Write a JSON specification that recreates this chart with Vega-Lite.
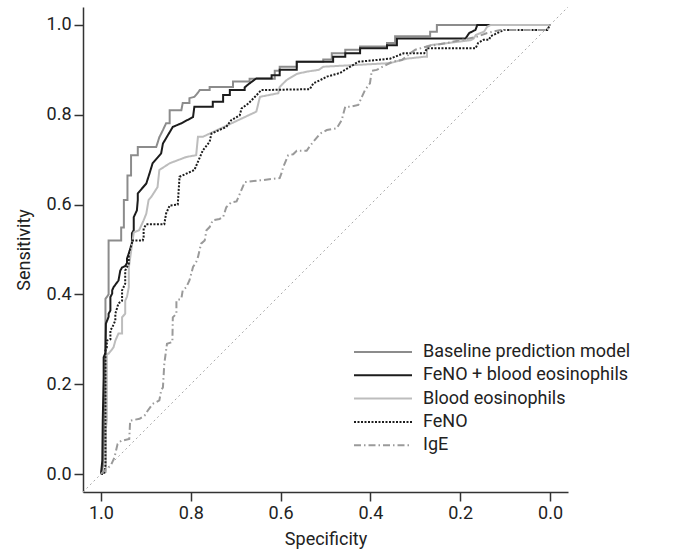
{
  "$schema": "https://vega.github.io/schema/vega-lite/v6.json",
  "autosize": "none",
  "width": 485,
  "height": 485,
  "padding": {"left": 83, "top": 7, "right": 115, "bottom": 63},
  "background": "white",
  "config": {
    "view": {"stroke": null},
    "font": "Roboto",
    "axis": {
      "grid": false,
      "labelFont": "Roboto",
      "titleFont": "Roboto",
      "labelFontSize": 18,
      "titleFontSize": 18,
      "titleFontWeight": "normal",
      "labelColor": "#222",
      "titleColor": "#222",
      "domainColor": "#333",
      "tickColor": "#333",
      "domainWidth": 1.5,
      "tickWidth": 1.5,
      "tickSize": 9
    },
    "legend": {
      "orient": "none",
      "legendX": 270,
      "legendY": 334,
      "padding": 0,
      "labelFont": "Roboto",
      "labelFontSize": 18,
      "labelColor": "#222",
      "labelOffset": 10,
      "symbolSize": 3364,
      "symbolType": "stroke",
      "clipHeight": 22,
      "rowPadding": 1.3,
      "labelLimit": 400
    }
  },
  "layer": [
    {
      "data": {"values": [{"spec": 1.04, "sens": -0.04}, {"spec": -0.04, "sens": 1.04}]},
      "mark": {"type": "line", "color": "#aaaaaa", "strokeWidth": 1, "strokeDash": [2, 3], "clip": true},
      "encoding": {
        "x": {"field": "spec", "type": "quantitative"},
        "y": {"field": "sens", "type": "quantitative"}
      }
    },
    {
      "data": {"values": [
        {"model": "Baseline prediction model", "spec": 1.0, "sens": 0.0},
        {"model": "Baseline prediction model", "spec": 0.995, "sens": 0.02},
        {"model": "Baseline prediction model", "spec": 0.993, "sens": 0.10},
        {"model": "Baseline prediction model", "spec": 0.990, "sens": 0.21},
        {"model": "Baseline prediction model", "spec": 0.990, "sens": 0.39},
        {"model": "Baseline prediction model", "spec": 0.983, "sens": 0.40},
        {"model": "Baseline prediction model", "spec": 0.983, "sens": 0.52},
        {"model": "Baseline prediction model", "spec": 0.955, "sens": 0.52},
        {"model": "Baseline prediction model", "spec": 0.955, "sens": 0.549},
        {"model": "Baseline prediction model", "spec": 0.949, "sens": 0.549},
        {"model": "Baseline prediction model", "spec": 0.949, "sens": 0.610},
        {"model": "Baseline prediction model", "spec": 0.941, "sens": 0.610},
        {"model": "Baseline prediction model", "spec": 0.941, "sens": 0.665},
        {"model": "Baseline prediction model", "spec": 0.933, "sens": 0.665},
        {"model": "Baseline prediction model", "spec": 0.933, "sens": 0.710},
        {"model": "Baseline prediction model", "spec": 0.918, "sens": 0.710},
        {"model": "Baseline prediction model", "spec": 0.918, "sens": 0.728},
        {"model": "Baseline prediction model", "spec": 0.877, "sens": 0.728},
        {"model": "Baseline prediction model", "spec": 0.870, "sens": 0.750},
        {"model": "Baseline prediction model", "spec": 0.862, "sens": 0.766},
        {"model": "Baseline prediction model", "spec": 0.855, "sens": 0.781},
        {"model": "Baseline prediction model", "spec": 0.847, "sens": 0.781},
        {"model": "Baseline prediction model", "spec": 0.847, "sens": 0.810},
        {"model": "Baseline prediction model", "spec": 0.821, "sens": 0.810},
        {"model": "Baseline prediction model", "spec": 0.818, "sens": 0.826},
        {"model": "Baseline prediction model", "spec": 0.803, "sens": 0.826},
        {"model": "Baseline prediction model", "spec": 0.803, "sens": 0.837},
        {"model": "Baseline prediction model", "spec": 0.792, "sens": 0.840},
        {"model": "Baseline prediction model", "spec": 0.785, "sens": 0.848},
        {"model": "Baseline prediction model", "spec": 0.780, "sens": 0.855},
        {"model": "Baseline prediction model", "spec": 0.758, "sens": 0.855},
        {"model": "Baseline prediction model", "spec": 0.758, "sens": 0.862},
        {"model": "Baseline prediction model", "spec": 0.706, "sens": 0.862},
        {"model": "Baseline prediction model", "spec": 0.706, "sens": 0.874},
        {"model": "Baseline prediction model", "spec": 0.669, "sens": 0.874},
        {"model": "Baseline prediction model", "spec": 0.669, "sens": 0.880},
        {"model": "Baseline prediction model", "spec": 0.613, "sens": 0.880},
        {"model": "Baseline prediction model", "spec": 0.613, "sens": 0.898},
        {"model": "Baseline prediction model", "spec": 0.602, "sens": 0.898},
        {"model": "Baseline prediction model", "spec": 0.602, "sens": 0.907},
        {"model": "Baseline prediction model", "spec": 0.564, "sens": 0.907},
        {"model": "Baseline prediction model", "spec": 0.564, "sens": 0.918},
        {"model": "Baseline prediction model", "spec": 0.505, "sens": 0.918},
        {"model": "Baseline prediction model", "spec": 0.505, "sens": 0.923},
        {"model": "Baseline prediction model", "spec": 0.486, "sens": 0.923},
        {"model": "Baseline prediction model", "spec": 0.486, "sens": 0.937},
        {"model": "Baseline prediction model", "spec": 0.456, "sens": 0.937},
        {"model": "Baseline prediction model", "spec": 0.456, "sens": 0.945},
        {"model": "Baseline prediction model", "spec": 0.423, "sens": 0.945},
        {"model": "Baseline prediction model", "spec": 0.423, "sens": 0.952},
        {"model": "Baseline prediction model", "spec": 0.363, "sens": 0.952},
        {"model": "Baseline prediction model", "spec": 0.363, "sens": 0.960},
        {"model": "Baseline prediction model", "spec": 0.345, "sens": 0.960},
        {"model": "Baseline prediction model", "spec": 0.345, "sens": 0.975},
        {"model": "Baseline prediction model", "spec": 0.267, "sens": 0.975},
        {"model": "Baseline prediction model", "spec": 0.267, "sens": 0.985},
        {"model": "Baseline prediction model", "spec": 0.252, "sens": 0.985},
        {"model": "Baseline prediction model", "spec": 0.252, "sens": 1.0},
        {"model": "Baseline prediction model", "spec": 0.0, "sens": 1.0},

        {"model": "FeNO + blood eosinophils", "spec": 1.0, "sens": 0.0},
        {"model": "FeNO + blood eosinophils", "spec": 0.997, "sens": 0.03},
        {"model": "FeNO + blood eosinophils", "spec": 0.996, "sens": 0.12},
        {"model": "FeNO + blood eosinophils", "spec": 0.994, "sens": 0.215},
        {"model": "FeNO + blood eosinophils", "spec": 0.994, "sens": 0.26},
        {"model": "FeNO + blood eosinophils", "spec": 0.990, "sens": 0.27},
        {"model": "FeNO + blood eosinophils", "spec": 0.989, "sens": 0.335},
        {"model": "FeNO + blood eosinophils", "spec": 0.983, "sens": 0.35},
        {"model": "FeNO + blood eosinophils", "spec": 0.983, "sens": 0.357},
        {"model": "FeNO + blood eosinophils", "spec": 0.979, "sens": 0.364},
        {"model": "FeNO + blood eosinophils", "spec": 0.979, "sens": 0.394},
        {"model": "FeNO + blood eosinophils", "spec": 0.975, "sens": 0.402},
        {"model": "FeNO + blood eosinophils", "spec": 0.975, "sens": 0.409},
        {"model": "FeNO + blood eosinophils", "spec": 0.972, "sens": 0.416},
        {"model": "FeNO + blood eosinophils", "spec": 0.961, "sens": 0.431},
        {"model": "FeNO + blood eosinophils", "spec": 0.957, "sens": 0.453},
        {"model": "FeNO + blood eosinophils", "spec": 0.953, "sens": 0.46},
        {"model": "FeNO + blood eosinophils", "spec": 0.946, "sens": 0.463},
        {"model": "FeNO + blood eosinophils", "spec": 0.942, "sens": 0.47},
        {"model": "FeNO + blood eosinophils", "spec": 0.942, "sens": 0.48},
        {"model": "FeNO + blood eosinophils", "spec": 0.938, "sens": 0.491},
        {"model": "FeNO + blood eosinophils", "spec": 0.931, "sens": 0.514},
        {"model": "FeNO + blood eosinophils", "spec": 0.931, "sens": 0.536},
        {"model": "FeNO + blood eosinophils", "spec": 0.927, "sens": 0.543},
        {"model": "FeNO + blood eosinophils", "spec": 0.927, "sens": 0.572},
        {"model": "FeNO + blood eosinophils", "spec": 0.920, "sens": 0.587},
        {"model": "FeNO + blood eosinophils", "spec": 0.918, "sens": 0.61},
        {"model": "FeNO + blood eosinophils", "spec": 0.918, "sens": 0.625},
        {"model": "FeNO + blood eosinophils", "spec": 0.899, "sens": 0.647},
        {"model": "FeNO + blood eosinophils", "spec": 0.892, "sens": 0.669},
        {"model": "FeNO + blood eosinophils", "spec": 0.885, "sens": 0.692},
        {"model": "FeNO + blood eosinophils", "spec": 0.866, "sens": 0.714},
        {"model": "FeNO + blood eosinophils", "spec": 0.862, "sens": 0.736},
        {"model": "FeNO + blood eosinophils", "spec": 0.840, "sens": 0.773},
        {"model": "FeNO + blood eosinophils", "spec": 0.821, "sens": 0.781},
        {"model": "FeNO + blood eosinophils", "spec": 0.795, "sens": 0.795},
        {"model": "FeNO + blood eosinophils", "spec": 0.792, "sens": 0.818},
        {"model": "FeNO + blood eosinophils", "spec": 0.751, "sens": 0.818},
        {"model": "FeNO + blood eosinophils", "spec": 0.751, "sens": 0.829},
        {"model": "FeNO + blood eosinophils", "spec": 0.728, "sens": 0.829},
        {"model": "FeNO + blood eosinophils", "spec": 0.728, "sens": 0.844},
        {"model": "FeNO + blood eosinophils", "spec": 0.713, "sens": 0.844},
        {"model": "FeNO + blood eosinophils", "spec": 0.713, "sens": 0.855},
        {"model": "FeNO + blood eosinophils", "spec": 0.680, "sens": 0.855},
        {"model": "FeNO + blood eosinophils", "spec": 0.680, "sens": 0.861},
        {"model": "FeNO + blood eosinophils", "spec": 0.669, "sens": 0.870},
        {"model": "FeNO + blood eosinophils", "spec": 0.654, "sens": 0.881},
        {"model": "FeNO + blood eosinophils", "spec": 0.620, "sens": 0.881},
        {"model": "FeNO + blood eosinophils", "spec": 0.620, "sens": 0.888},
        {"model": "FeNO + blood eosinophils", "spec": 0.602, "sens": 0.888},
        {"model": "FeNO + blood eosinophils", "spec": 0.602, "sens": 0.900},
        {"model": "FeNO + blood eosinophils", "spec": 0.564, "sens": 0.900},
        {"model": "FeNO + blood eosinophils", "spec": 0.564, "sens": 0.918},
        {"model": "FeNO + blood eosinophils", "spec": 0.483, "sens": 0.918},
        {"model": "FeNO + blood eosinophils", "spec": 0.483, "sens": 0.929},
        {"model": "FeNO + blood eosinophils", "spec": 0.456, "sens": 0.929},
        {"model": "FeNO + blood eosinophils", "spec": 0.456, "sens": 0.937},
        {"model": "FeNO + blood eosinophils", "spec": 0.423, "sens": 0.937},
        {"model": "FeNO + blood eosinophils", "spec": 0.423, "sens": 0.948},
        {"model": "FeNO + blood eosinophils", "spec": 0.363, "sens": 0.948},
        {"model": "FeNO + blood eosinophils", "spec": 0.363, "sens": 0.955},
        {"model": "FeNO + blood eosinophils", "spec": 0.341, "sens": 0.955},
        {"model": "FeNO + blood eosinophils", "spec": 0.341, "sens": 0.970},
        {"model": "FeNO + blood eosinophils", "spec": 0.188, "sens": 0.970},
        {"model": "FeNO + blood eosinophils", "spec": 0.180, "sens": 0.982},
        {"model": "FeNO + blood eosinophils", "spec": 0.166, "sens": 0.989},
        {"model": "FeNO + blood eosinophils", "spec": 0.162, "sens": 1.0},
        {"model": "FeNO + blood eosinophils", "spec": 0.0, "sens": 1.0},

        {"model": "Blood eosinophils", "spec": 1.0, "sens": 0.0},
        {"model": "Blood eosinophils", "spec": 0.989, "sens": 0.005},
        {"model": "Blood eosinophils", "spec": 0.989, "sens": 0.10},
        {"model": "Blood eosinophils", "spec": 0.987, "sens": 0.12},
        {"model": "Blood eosinophils", "spec": 0.987, "sens": 0.268},
        {"model": "Blood eosinophils", "spec": 0.983, "sens": 0.268},
        {"model": "Blood eosinophils", "spec": 0.972, "sens": 0.282},
        {"model": "Blood eosinophils", "spec": 0.968, "sens": 0.297},
        {"model": "Blood eosinophils", "spec": 0.961, "sens": 0.313},
        {"model": "Blood eosinophils", "spec": 0.953, "sens": 0.313},
        {"model": "Blood eosinophils", "spec": 0.953, "sens": 0.349},
        {"model": "Blood eosinophils", "spec": 0.946, "sens": 0.357},
        {"model": "Blood eosinophils", "spec": 0.946, "sens": 0.386},
        {"model": "Blood eosinophils", "spec": 0.942, "sens": 0.395},
        {"model": "Blood eosinophils", "spec": 0.938, "sens": 0.416},
        {"model": "Blood eosinophils", "spec": 0.938, "sens": 0.46},
        {"model": "Blood eosinophils", "spec": 0.927, "sens": 0.538},
        {"model": "Blood eosinophils", "spec": 0.915, "sens": 0.543},
        {"model": "Blood eosinophils", "spec": 0.905, "sens": 0.565},
        {"model": "Blood eosinophils", "spec": 0.899, "sens": 0.58},
        {"model": "Blood eosinophils", "spec": 0.894, "sens": 0.61},
        {"model": "Blood eosinophils", "spec": 0.888, "sens": 0.617},
        {"model": "Blood eosinophils", "spec": 0.874, "sens": 0.639},
        {"model": "Blood eosinophils", "spec": 0.870, "sens": 0.677},
        {"model": "Blood eosinophils", "spec": 0.847, "sens": 0.692},
        {"model": "Blood eosinophils", "spec": 0.810, "sens": 0.706},
        {"model": "Blood eosinophils", "spec": 0.788, "sens": 0.710},
        {"model": "Blood eosinophils", "spec": 0.784, "sens": 0.751},
        {"model": "Blood eosinophils", "spec": 0.773, "sens": 0.751},
        {"model": "Blood eosinophils", "spec": 0.654, "sens": 0.807},
        {"model": "Blood eosinophils", "spec": 0.646, "sens": 0.840},
        {"model": "Blood eosinophils", "spec": 0.605, "sens": 0.848},
        {"model": "Blood eosinophils", "spec": 0.602, "sens": 0.862},
        {"model": "Blood eosinophils", "spec": 0.587, "sens": 0.877},
        {"model": "Blood eosinophils", "spec": 0.564, "sens": 0.891},
        {"model": "Blood eosinophils", "spec": 0.542, "sens": 0.896},
        {"model": "Blood eosinophils", "spec": 0.515, "sens": 0.900},
        {"model": "Blood eosinophils", "spec": 0.505, "sens": 0.907},
        {"model": "Blood eosinophils", "spec": 0.356, "sens": 0.915},
        {"model": "Blood eosinophils", "spec": 0.319, "sens": 0.925},
        {"model": "Blood eosinophils", "spec": 0.282, "sens": 0.929},
        {"model": "Blood eosinophils", "spec": 0.274, "sens": 0.929},
        {"model": "Blood eosinophils", "spec": 0.274, "sens": 0.952},
        {"model": "Blood eosinophils", "spec": 0.267, "sens": 0.955},
        {"model": "Blood eosinophils", "spec": 0.177, "sens": 0.966},
        {"model": "Blood eosinophils", "spec": 0.170, "sens": 0.970},
        {"model": "Blood eosinophils", "spec": 0.165, "sens": 0.978},
        {"model": "Blood eosinophils", "spec": 0.147, "sens": 0.985},
        {"model": "Blood eosinophils", "spec": 0.140, "sens": 0.996},
        {"model": "Blood eosinophils", "spec": 0.132, "sens": 1.0},
        {"model": "Blood eosinophils", "spec": 0.0, "sens": 1.0},

        {"model": "FeNO", "spec": 1.0, "sens": 0.0},
        {"model": "FeNO", "spec": 0.993, "sens": 0.0},
        {"model": "FeNO", "spec": 0.990, "sens": 0.02},
        {"model": "FeNO", "spec": 0.990, "sens": 0.275},
        {"model": "FeNO", "spec": 0.987, "sens": 0.282},
        {"model": "FeNO", "spec": 0.987, "sens": 0.297},
        {"model": "FeNO", "spec": 0.979, "sens": 0.30},
        {"model": "FeNO", "spec": 0.979, "sens": 0.32},
        {"model": "FeNO", "spec": 0.975, "sens": 0.326},
        {"model": "FeNO", "spec": 0.968, "sens": 0.342},
        {"model": "FeNO", "spec": 0.968, "sens": 0.357},
        {"model": "FeNO", "spec": 0.961, "sens": 0.38},
        {"model": "FeNO", "spec": 0.953, "sens": 0.386},
        {"model": "FeNO", "spec": 0.953, "sens": 0.409},
        {"model": "FeNO", "spec": 0.946, "sens": 0.424},
        {"model": "FeNO", "spec": 0.946, "sens": 0.453},
        {"model": "FeNO", "spec": 0.938, "sens": 0.469},
        {"model": "FeNO", "spec": 0.938, "sens": 0.491},
        {"model": "FeNO", "spec": 0.931, "sens": 0.514},
        {"model": "FeNO", "spec": 0.931, "sens": 0.52},
        {"model": "FeNO", "spec": 0.907, "sens": 0.52},
        {"model": "FeNO", "spec": 0.905, "sens": 0.527},
        {"model": "FeNO", "spec": 0.905, "sens": 0.547},
        {"model": "FeNO", "spec": 0.899, "sens": 0.556},
        {"model": "FeNO", "spec": 0.859, "sens": 0.556},
        {"model": "FeNO", "spec": 0.855, "sens": 0.58},
        {"model": "FeNO", "spec": 0.847, "sens": 0.598},
        {"model": "FeNO", "spec": 0.829, "sens": 0.60},
        {"model": "FeNO", "spec": 0.825, "sens": 0.662},
        {"model": "FeNO", "spec": 0.792, "sens": 0.677},
        {"model": "FeNO", "spec": 0.773, "sens": 0.721},
        {"model": "FeNO", "spec": 0.758, "sens": 0.740},
        {"model": "FeNO", "spec": 0.754, "sens": 0.758},
        {"model": "FeNO", "spec": 0.721, "sens": 0.773},
        {"model": "FeNO", "spec": 0.710, "sens": 0.788},
        {"model": "FeNO", "spec": 0.691, "sens": 0.799},
        {"model": "FeNO", "spec": 0.687, "sens": 0.814},
        {"model": "FeNO", "spec": 0.672, "sens": 0.825},
        {"model": "FeNO", "spec": 0.657, "sens": 0.840},
        {"model": "FeNO", "spec": 0.643, "sens": 0.855},
        {"model": "FeNO", "spec": 0.535, "sens": 0.857},
        {"model": "FeNO", "spec": 0.527, "sens": 0.870},
        {"model": "FeNO", "spec": 0.512, "sens": 0.877},
        {"model": "FeNO", "spec": 0.497, "sens": 0.885},
        {"model": "FeNO", "spec": 0.468, "sens": 0.893},
        {"model": "FeNO", "spec": 0.445, "sens": 0.907},
        {"model": "FeNO", "spec": 0.427, "sens": 0.918},
        {"model": "FeNO", "spec": 0.356, "sens": 0.925},
        {"model": "FeNO", "spec": 0.326, "sens": 0.937},
        {"model": "FeNO", "spec": 0.280, "sens": 0.937},
        {"model": "FeNO", "spec": 0.274, "sens": 0.948},
        {"model": "FeNO", "spec": 0.166, "sens": 0.948},
        {"model": "FeNO", "spec": 0.160, "sens": 0.960},
        {"model": "FeNO", "spec": 0.148, "sens": 0.967},
        {"model": "FeNO", "spec": 0.136, "sens": 0.967},
        {"model": "FeNO", "spec": 0.132, "sens": 0.975},
        {"model": "FeNO", "spec": 0.103, "sens": 0.989},
        {"model": "FeNO", "spec": 0.006, "sens": 0.989},
        {"model": "FeNO", "spec": 0.0, "sens": 1.0},

        {"model": "IgE", "spec": 1.0, "sens": 0.0},
        {"model": "IgE", "spec": 0.993, "sens": 0.007},
        {"model": "IgE", "spec": 0.978, "sens": 0.019},
        {"model": "IgE", "spec": 0.970, "sens": 0.037},
        {"model": "IgE", "spec": 0.963, "sens": 0.067},
        {"model": "IgE", "spec": 0.955, "sens": 0.074},
        {"model": "IgE", "spec": 0.937, "sens": 0.078},
        {"model": "IgE", "spec": 0.935, "sens": 0.119},
        {"model": "IgE", "spec": 0.914, "sens": 0.123},
        {"model": "IgE", "spec": 0.903, "sens": 0.130},
        {"model": "IgE", "spec": 0.896, "sens": 0.141},
        {"model": "IgE", "spec": 0.885, "sens": 0.156},
        {"model": "IgE", "spec": 0.870, "sens": 0.164},
        {"model": "IgE", "spec": 0.866, "sens": 0.186},
        {"model": "IgE", "spec": 0.862, "sens": 0.193},
        {"model": "IgE", "spec": 0.859, "sens": 0.245},
        {"model": "IgE", "spec": 0.853, "sens": 0.290},
        {"model": "IgE", "spec": 0.841, "sens": 0.294},
        {"model": "IgE", "spec": 0.840, "sens": 0.349},
        {"model": "IgE", "spec": 0.832, "sens": 0.357},
        {"model": "IgE", "spec": 0.832, "sens": 0.387},
        {"model": "IgE", "spec": 0.821, "sens": 0.390},
        {"model": "IgE", "spec": 0.818, "sens": 0.409},
        {"model": "IgE", "spec": 0.810, "sens": 0.416},
        {"model": "IgE", "spec": 0.803, "sens": 0.431},
        {"model": "IgE", "spec": 0.795, "sens": 0.461},
        {"model": "IgE", "spec": 0.788, "sens": 0.472},
        {"model": "IgE", "spec": 0.784, "sens": 0.483},
        {"model": "IgE", "spec": 0.777, "sens": 0.513},
        {"model": "IgE", "spec": 0.769, "sens": 0.520},
        {"model": "IgE", "spec": 0.765, "sens": 0.543},
        {"model": "IgE", "spec": 0.758, "sens": 0.550},
        {"model": "IgE", "spec": 0.751, "sens": 0.565},
        {"model": "IgE", "spec": 0.736, "sens": 0.568},
        {"model": "IgE", "spec": 0.728, "sens": 0.572},
        {"model": "IgE", "spec": 0.721, "sens": 0.594},
        {"model": "IgE", "spec": 0.710, "sens": 0.605},
        {"model": "IgE", "spec": 0.698, "sens": 0.607},
        {"model": "IgE", "spec": 0.684, "sens": 0.640},
        {"model": "IgE", "spec": 0.680, "sens": 0.650},
        {"model": "IgE", "spec": 0.646, "sens": 0.654},
        {"model": "IgE", "spec": 0.602, "sens": 0.659},
        {"model": "IgE", "spec": 0.598, "sens": 0.670},
        {"model": "IgE", "spec": 0.594, "sens": 0.684},
        {"model": "IgE", "spec": 0.583, "sens": 0.710},
        {"model": "IgE", "spec": 0.572, "sens": 0.712},
        {"model": "IgE", "spec": 0.564, "sens": 0.720},
        {"model": "IgE", "spec": 0.542, "sens": 0.720},
        {"model": "IgE", "spec": 0.535, "sens": 0.730},
        {"model": "IgE", "spec": 0.527, "sens": 0.740},
        {"model": "IgE", "spec": 0.512, "sens": 0.758},
        {"model": "IgE", "spec": 0.497, "sens": 0.766},
        {"model": "IgE", "spec": 0.475, "sens": 0.770},
        {"model": "IgE", "spec": 0.464, "sens": 0.788},
        {"model": "IgE", "spec": 0.456, "sens": 0.818},
        {"model": "IgE", "spec": 0.445, "sens": 0.818},
        {"model": "IgE", "spec": 0.427, "sens": 0.822},
        {"model": "IgE", "spec": 0.419, "sens": 0.840},
        {"model": "IgE", "spec": 0.412, "sens": 0.855},
        {"model": "IgE", "spec": 0.401, "sens": 0.870},
        {"model": "IgE", "spec": 0.397, "sens": 0.898},
        {"model": "IgE", "spec": 0.386, "sens": 0.900},
        {"model": "IgE", "spec": 0.352, "sens": 0.918},
        {"model": "IgE", "spec": 0.330, "sens": 0.922},
        {"model": "IgE", "spec": 0.311, "sens": 0.937},
        {"model": "IgE", "spec": 0.300, "sens": 0.945},
        {"model": "IgE", "spec": 0.274, "sens": 0.952},
        {"model": "IgE", "spec": 0.229, "sens": 0.960},
        {"model": "IgE", "spec": 0.162, "sens": 0.974},
        {"model": "IgE", "spec": 0.140, "sens": 0.982},
        {"model": "IgE", "spec": 0.110, "sens": 0.989},
        {"model": "IgE", "spec": 0.006, "sens": 0.989},
        {"model": "IgE", "spec": 0.0, "sens": 1.0}
      ]},
      "mark": {"type": "line", "clip": true},
      "encoding": {
        "x": {
          "field": "spec", "type": "quantitative",
          "scale": {"domain": [-0.04, 1.04], "reverse": true, "nice": false, "zero": false},
          "axis": {"title": "Specificity", "values": [0, 0.2, 0.4, 0.6, 0.8, 1.0], "format": ".1f", "labelPadding": 3, "titlePadding": 8}
        },
        "y": {
          "field": "sens", "type": "quantitative",
          "scale": {"domain": [-0.04, 1.04], "nice": false, "zero": false},
          "axis": {"title": "Sensitivity", "values": [0, 0.2, 0.4, 0.6, 0.8, 1.0], "format": ".1f", "labelPadding": 3, "titlePadding": 13}
        },
        "order": {"value": null},
        "color": {
          "field": "model", "type": "nominal", "title": null,
          "scale": {
            "domain": ["Baseline prediction model", "FeNO + blood eosinophils", "Blood eosinophils", "FeNO", "IgE"],
            "range": ["#8c8c8c", "#1c1c1c", "#bdbdbd", "#1c1c1c", "#9a9a9a"]
          }
        },
        "strokeDash": {
          "field": "model", "type": "nominal", "title": null,
          "scale": {
            "domain": ["Baseline prediction model", "FeNO + blood eosinophils", "Blood eosinophils", "FeNO", "IgE"],
            "range": [[1, 0], [1, 0], [1, 0], [2, 1.5], [7, 3, 1.5, 3]]
          }
        },
        "strokeWidth": {
          "field": "model", "type": "nominal", "title": null,
          "scale": {
            "domain": ["Baseline prediction model", "FeNO + blood eosinophils", "Blood eosinophils", "FeNO", "IgE"],
            "range": [2, 2, 2, 1.6, 1.4]
          }
        }
      }
    }
  ]
}
